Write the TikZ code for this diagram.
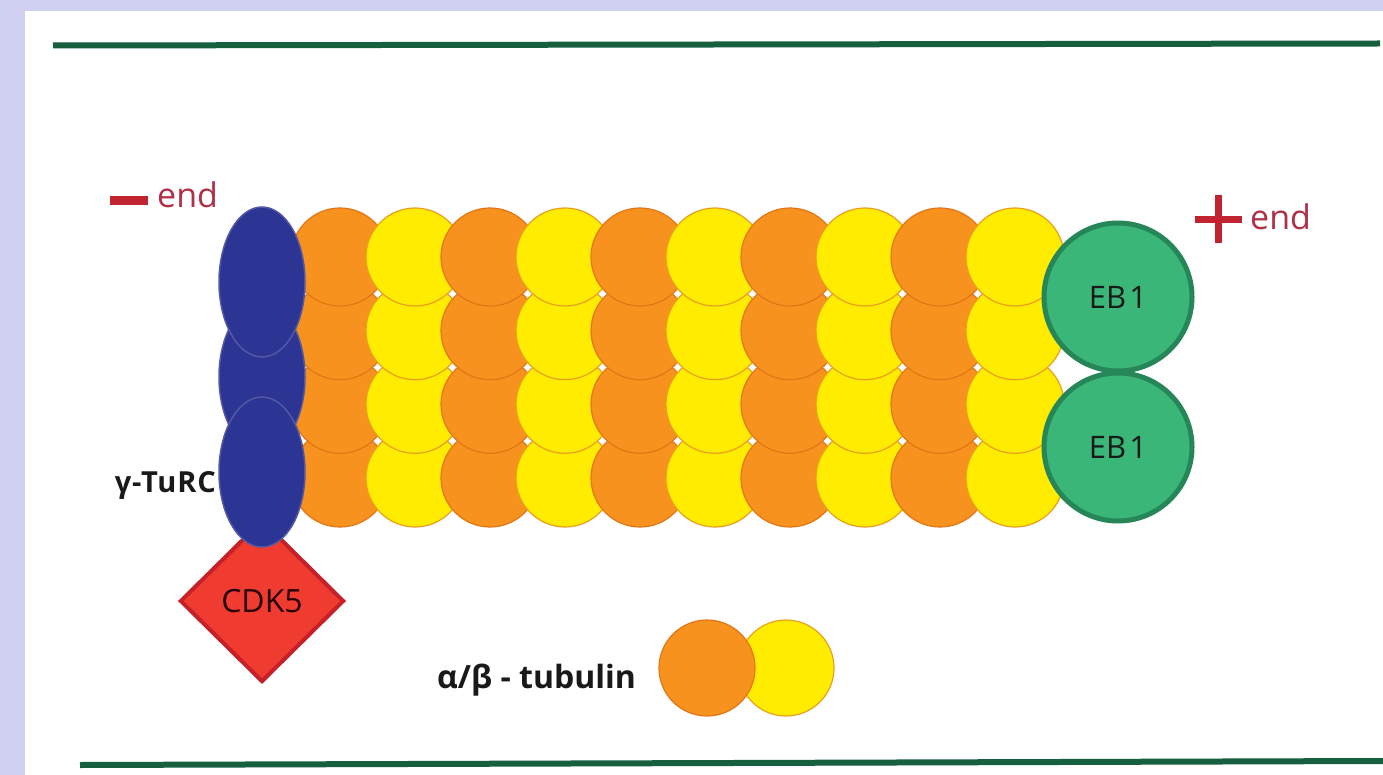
\documentclass[tikz,border=0pt]{standalone}
\usepackage{fontspec}
\setmainfont{Open Sans}
\usetikzlibrary{shapes.geometric}

\definecolor{lav}{RGB}{208,208,242}
\definecolor{rulegreen}{RGB}{23,96,63}
\definecolor{tuba}{RGB}{247,146,30}
\definecolor{tubaedge}{RGB}{226,118,22}
\definecolor{tubb}{RGB}{255,236,0}
\definecolor{tubbedge}{RGB}{232,160,30}
\definecolor{gtu}{RGB}{44,52,148}
\definecolor{gtuedge}{RGB}{84,88,164}
\definecolor{ebfill}{RGB}{58,182,120}
\definecolor{ebedge}{RGB}{38,134,88}
\definecolor{cdkfill}{RGB}{240,60,48}
\definecolor{cdkedge}{RGB}{198,32,40}
\definecolor{endred}{RGB}{193,36,48}
\definecolor{endtext}{RGB}{176,48,72}

\tikzset{
  alphasub/.style={circle, draw=tubaedge, fill=tuba, line width=1.2pt,
    minimum size=98pt, inner sep=0pt},
  betasub/.style={circle, draw=tubbedge, fill=tubb, line width=1.2pt,
    minimum size=98pt, inner sep=0pt},
  gturc/.style={ellipse, draw=gtuedge, fill=gtu, line width=1.5pt,
    minimum width=86pt, minimum height=150pt, inner sep=0pt},
  ebone/.style={circle, draw=ebedge, fill=ebfill, line width=5pt,
    minimum size=148pt, inner sep=0pt, text=black!90,
    font=\fontsize{31}{36}\selectfont},
  kinase/.style={diamond, aspect=1, draw=cdkedge, fill=cdkfill, line width=4pt,
    minimum width=164pt, minimum height=162pt, inner sep=0pt,
    text={black!85!red}, font=\fontsize{32}{36}\selectfont},
  endbar/.style={fill=endred, inner sep=0pt},
  endlabel/.style={text=endtext, inner sep=0pt,
    font=\fontsize{34}{40}\selectfont},
  blacklabel/.style={text=black!90, inner sep=0pt},
  rulestyle/.style={draw=rulegreen, line width=6pt}
}

\begin{document}
\begin{tikzpicture}[x=1pt, y=-1pt]
  \useasboundingbox (0,0) rectangle (1383,775);

  % page frame
  \fill[lav] (0,0) rectangle (1383,775);
  \fill[white] (25,11) rectangle (1383,775);

  % membrane-like rules at top and bottom
  \coordinate (topL) at (53,45.5);
  \coordinate (topR) at (1380,43.5);
  \coordinate (botL) at (80,765);
  \coordinate (botR) at (1383,761);
  \draw[rulestyle] (topL) -- (topR);
  \draw[rulestyle] (botL) -- (botR);

  % CDK5 sits under the gamma-tubulin ring
  \node[kinase] (cdk5) at (262,601) {CDK5};

  % microtubule lattice: ten protofilament columns, alpha/beta alternating,
  % each column laid over the one on its left, upper rows over lower rows
  \foreach \j in {1,...,10} {
    \pgfmathtruncatemacro{\odd}{mod(\j,2)}
    \foreach \r/\y in {4/478,3/404.3,2/330.7,1/257} {
      \ifnum\odd=1
        \node[alphasub] (t-\r-\j) at ({340+75*(\j-1)},\y) {};
      \else
        \node[betasub] (t-\r-\j) at ({340+75*(\j-1)},\y) {};
      \fi
    }
  }

  % gamma-TuRC at the minus end
  \node[gturc] (g2) at (262,377) {};
  \node[gturc] (g1) at (262,282) {};
  \node[gturc] (g3) at (262,472) {};

  % EB1 at the plus end
  \node[ebone] (ebtop) at (1118,297) {EB\kern3pt 1};
  \node[ebone] (ebbot) at (1118,447) {EB\kern3pt 1};

  % end markers
  \node[endbar, minimum width=38pt, minimum height=9pt] (minusbar) at (129,201) {};
  \node[endlabel, anchor=base west] (minusend) at (157,208) {end};
  \node[endbar, minimum width=47pt, minimum height=7pt] (plush) at (1218,220) {};
  \node[endbar, minimum width=7pt, minimum height=48pt] (plusv) at (1218,219) {};
  \node[endlabel, anchor=base west] (plusend) at (1250,230) {end};

  % labels
  \node[blacklabel, anchor=base east,
    font=\fontsize{29}{36}\selectfont\bfseries\addfontfeatures{LetterSpace=3}]
    (gturclabel) at (216,492) {γ-TuRC};
  \node[blacklabel, anchor=base west,
    font=\fontsize{32}{40}\selectfont\bfseries]
    (dimerlabel) at (437,688) {α/β - tubulin};

  % free tubulin dimer
  \node[betasub, minimum size=96pt] (freebeta) at (786,668) {};
  \node[alphasub, minimum size=96pt] (freealpha) at (707,668) {};
\end{tikzpicture}
\end{document}
